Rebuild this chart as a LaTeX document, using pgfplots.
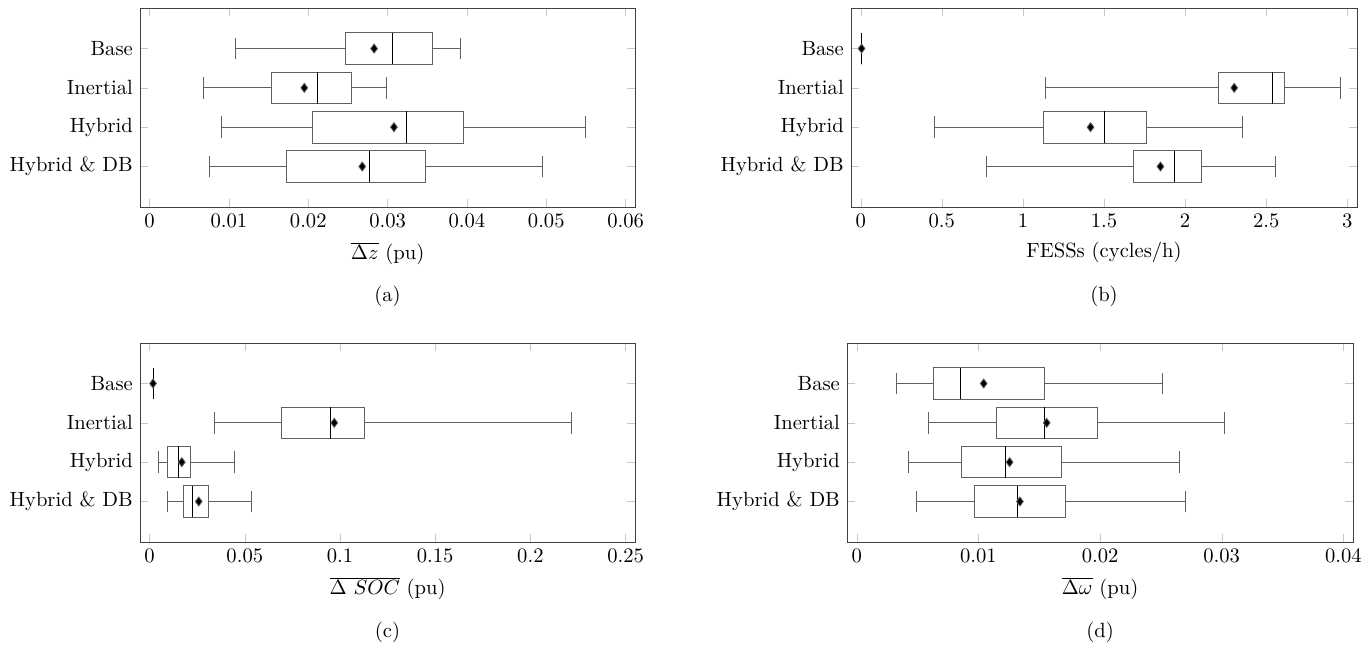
\documentclass[border=0pt]{standalone}
\usepackage{pgfplots}
\pgfplotsset{compat=1.18}
\usepgfplotslibrary{statistics}
\begin{document}
\begin{tikzpicture}
\useasboundingbox (0,0) rectangle (662.6pt,-313.1pt);
\pgfplotsset{
  myax/.style={
    scale only axis, height=96.6pt, anchor=north west,
    ymin=-0.03, ymax=5.03, ytick={1,2,3,4},
    yticklabels={Hybrid \& DB, Hybrid, Inertial, Base},
    axis line style={black!75},
    tick style={black!22},
    major tick length=4pt,
    enlarge x limits=0.02,
    scaled x ticks=false,
    xticklabel style={/pgf/number format/fixed, /pgf/number format/precision=3},
    boxplot/box extend=0.8,
    boxplot/whisker extend=0.55,
    boxplot/every median/.style={draw=black},
    boxplot/every average/.style={/tikz/mark=diamond*, /tikz/mark size=2.2pt, /tikz/mark options={solid, fill=black, draw=black}},
  },
  bp/.style={solid, draw=black!62, mark=diamond*, mark size=2.2pt, mark options={fill=black, draw=black}},
}
% (a)
\begin{axis}[myax, at={(68.0pt,-3.9pt)}, width=240.3pt,
  xmin=0, xmax=0.06, xtick={0,0.01,0.02,0.03,0.04,0.05,0.06},
  xlabel={$\overline{\Delta z}$ (pu)}]
\addplot[bp, boxplot prepared={lower whisker=0.0108, lower quartile=0.0247, median=0.0306, upper quartile=0.0356, upper whisker=0.0392, average=0.0283, draw position=4}] coordinates {};
\addplot[bp, boxplot prepared={lower whisker=0.0068, lower quartile=0.0153, median=0.0212, upper quartile=0.0254, upper whisker=0.0299, average=0.0195, draw position=3}] coordinates {};
\addplot[bp, boxplot prepared={lower whisker=0.0090, lower quartile=0.0205, median=0.0324, upper quartile=0.0395, upper whisker=0.0549, average=0.0308, draw position=2}] coordinates {};
\addplot[bp, boxplot prepared={lower whisker=0.0075, lower quartile=0.0172, median=0.0277, upper quartile=0.0348, upper whisker=0.0495, average=0.0268, draw position=1}] coordinates {};
\end{axis}
% (b)
\begin{axis}[myax, at={(413.1pt,-3.9pt)}, width=245.6pt,
  xmin=0, xmax=3, xtick={0,0.5,1,1.5,2,2.5,3},
  xlabel={FESSs (cycles/h)}]
\addplot[bp, boxplot prepared={lower whisker=0.005, lower quartile=0.005, median=0.005, upper quartile=0.005, upper whisker=0.005, average=0.005, draw position=4}] coordinates {};
\addplot[bp, boxplot prepared={lower whisker=1.141, lower quartile=2.203, median=2.539, upper quartile=2.612, upper whisker=2.957, average=2.303, draw position=3}] coordinates {};
\addplot[bp, boxplot prepared={lower whisker=0.455, lower quartile=1.125, median=1.504, upper quartile=1.759, upper whisker=2.355, average=1.417, draw position=2}] coordinates {};
\addplot[bp, boxplot prepared={lower whisker=0.772, lower quartile=1.683, median=1.932, upper quartile=2.098, upper whisker=2.556, average=1.848, draw position=1}] coordinates {};
\end{axis}
% (c)
\begin{axis}[myax, at={(68.0pt,-166.5pt)}, width=240.3pt,
  xmin=0, xmax=0.25, xtick={0,0.05,0.1,0.15,0.2,0.25},
  xlabel={$\overline{\Delta\ SOC}$ (pu)}]
\addplot[bp, boxplot prepared={lower whisker=0.0018, lower quartile=0.0018, median=0.0018, upper quartile=0.0018, upper whisker=0.0018, average=0.0018, draw position=4}] coordinates {};
\addplot[bp, boxplot prepared={lower whisker=0.034, lower quartile=0.0694, median=0.0952, upper quartile=0.113, upper whisker=0.2215, average=0.097, draw position=3}] coordinates {};
\addplot[bp, boxplot prepared={lower whisker=0.0048, lower quartile=0.0094, median=0.0151, upper quartile=0.0215, upper whisker=0.0443, average=0.0169, draw position=2}] coordinates {};
\addplot[bp, boxplot prepared={lower whisker=0.0096, lower quartile=0.0178, median=0.0224, upper quartile=0.0308, upper whisker=0.0537, average=0.0258, draw position=1}] coordinates {};
\end{axis}
% (d)
\begin{axis}[myax, at={(411.2pt,-166.5pt)}, width=245.6pt,
  xmin=0, xmax=0.04, xtick={0,0.01,0.02,0.03,0.04},
  xlabel={$\overline{\Delta\omega}$ (pu)}]
\addplot[bp, boxplot prepared={lower whisker=0.00327, lower quartile=0.00632, median=0.00852, upper quartile=0.01543, upper whisker=0.02512, average=0.01043, draw position=4}] coordinates {};
\addplot[bp, boxplot prepared={lower whisker=0.00588, lower quartile=0.0115, median=0.01539, upper quartile=0.0198, upper whisker=0.03023, average=0.01561, draw position=3}] coordinates {};
\addplot[bp, boxplot prepared={lower whisker=0.00426, lower quartile=0.00856, median=0.01223, upper quartile=0.01686, upper whisker=0.02652, average=0.01256, draw position=2}] coordinates {};
\addplot[bp, boxplot prepared={lower whisker=0.00492, lower quartile=0.0097, median=0.01319, upper quartile=0.01715, upper whisker=0.0270, average=0.01341, draw position=1}] coordinates {};
\end{axis}
\node at (188.1pt,-143.7pt) {(a)};
\node at (535.9pt,-143.7pt) {(b)};
\node at (188.1pt,-306.8pt) {(c)};
\node at (534.0pt,-306.8pt) {(d)};
\end{tikzpicture}
\end{document}
